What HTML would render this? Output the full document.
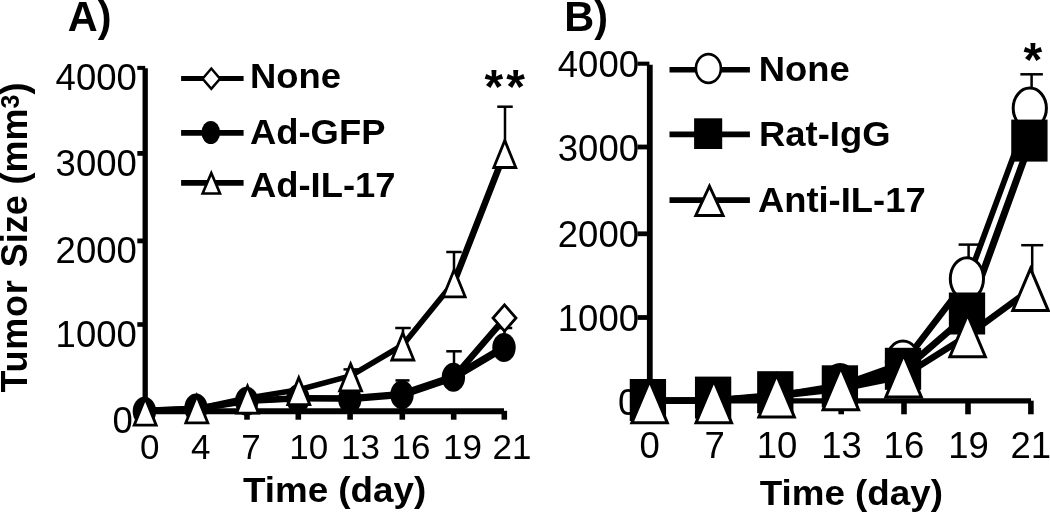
<!DOCTYPE html>
<html lang="en">
<head>
<meta charset="utf-8">
<title>Tumor size over time</title>
<style>
html,body{margin:0;padding:0;background:#fff;}
body{width:1050px;height:513px;overflow:hidden;}
svg{display:block;will-change:transform;}
svg text{font-family:"Liberation Sans", sans-serif;fill:#000;}
</style>
</head>
<body>
<svg width="1050" height="513" viewBox="0 0 1050 513">
<rect x="0" y="0" width="1050" height="513" fill="#fff"/>
<text transform="translate(67.70,30.80) scale(0.974,1)" font-size="42.6" font-weight="700" text-anchor="start">A)</text>
<text transform="translate(27,0) rotate(-90)" font-size="36" font-weight="700"><tspan x="-392.5" letter-spacing="0.75">Tumor</tspan> <tspan x="-267.2">Size</tspan> <tspan x="-184.5">(mm</tspan><tspan font-size="25" dy="-8">3</tspan><tspan dy="8">)</tspan></text>
<text x="136.80" y="90.30" font-size="36.5" text-anchor="end">4000</text>
<text x="136.80" y="176.10" font-size="36.5" text-anchor="end">3000</text>
<text x="136.80" y="262.80" font-size="36.5" text-anchor="end">2000</text>
<text x="136.80" y="346.90" font-size="36.5" text-anchor="end">1000</text>
<text x="132.70" y="433.10" font-size="36.5" text-anchor="end">0</text>
<text x="139.90" y="458.80" font-size="35" text-anchor="start">0</text>
<text x="191.10" y="458.80" font-size="35" text-anchor="start">4</text>
<text x="241.30" y="458.80" font-size="35" text-anchor="start">7</text>
<text x="289.30" y="458.80" font-size="35" text-anchor="start">10</text>
<text x="341.00" y="458.80" font-size="35" text-anchor="start">13</text>
<text x="391.50" y="458.80" font-size="35" text-anchor="start">16</text>
<text x="443.00" y="458.80" font-size="35" text-anchor="start">19</text>
<text x="492.50" y="458.80" font-size="35" text-anchor="start">21</text>
<text transform="translate(243.00,501.50) scale(1.022,1)" font-size="36" font-weight="700" text-anchor="start">Time (day)</text>
<line x1="181.10" y1="78.50" x2="243.60" y2="78.50" stroke="#000" stroke-width="5.1" stroke-linecap="butt"/>
<polygon points="211.30,68.55 220.00,78.70 211.30,88.85 202.60,78.70" fill="#fff" stroke="#000" stroke-width="2.5" stroke-linejoin="miter"/>
<text transform="translate(250.10,88.20) scale(1.04,1)" font-size="35" font-weight="700" text-anchor="start">None</text>
<line x1="181.10" y1="132.95" x2="243.60" y2="132.95" stroke="#000" stroke-width="5.7" stroke-linecap="butt"/>
<ellipse cx="210.80" cy="132.50" rx="9.3" ry="11.6" fill="#000"/>
<text transform="translate(250.00,144.00) scale(1.04,1)" font-size="35" font-weight="700" text-anchor="start">Ad-GFP</text>
<line x1="181.10" y1="182.95" x2="243.60" y2="182.95" stroke="#000" stroke-width="5.7" stroke-linecap="butt"/>
<polygon points="211.30,173.08 220.00,193.53 202.60,193.53" fill="#fff" stroke="#000" stroke-width="2.6" stroke-linejoin="miter"/>
<text transform="translate(250.00,196.60) scale(1.04,1)" font-size="35" font-weight="700" text-anchor="start">Ad-IL-17</text>
<text x="484.60" y="103.00" font-size="48" font-weight="700" text-anchor="start" letter-spacing="2.9">**</text>
<line x1="145.20" y1="68.30" x2="145.20" y2="413.50" stroke="#000" stroke-width="5.3" stroke-linecap="butt"/>
<line x1="142.60" y1="411.20" x2="504.00" y2="411.20" stroke="#000" stroke-width="6" stroke-linecap="butt"/>
<line x1="137.30" y1="67.90" x2="145.20" y2="67.90" stroke="#000" stroke-width="4.0" stroke-linecap="butt"/>
<line x1="137.30" y1="153.40" x2="145.20" y2="153.40" stroke="#000" stroke-width="4.8" stroke-linecap="butt"/>
<line x1="137.30" y1="240.90" x2="145.20" y2="240.90" stroke="#000" stroke-width="4.8" stroke-linecap="butt"/>
<line x1="137.30" y1="324.50" x2="145.20" y2="324.50" stroke="#000" stroke-width="4.6" stroke-linecap="butt"/>
<line x1="196.30" y1="410.80" x2="196.30" y2="419.70" stroke="#000" stroke-width="5.6" stroke-linecap="butt"/>
<line x1="247.00" y1="410.80" x2="247.00" y2="419.70" stroke="#000" stroke-width="5.6" stroke-linecap="butt"/>
<line x1="298.30" y1="410.80" x2="298.30" y2="419.70" stroke="#000" stroke-width="5.6" stroke-linecap="butt"/>
<line x1="350.10" y1="410.80" x2="350.10" y2="419.70" stroke="#000" stroke-width="5.6" stroke-linecap="butt"/>
<line x1="402.30" y1="410.80" x2="402.30" y2="419.70" stroke="#000" stroke-width="5.6" stroke-linecap="butt"/>
<line x1="453.70" y1="410.80" x2="453.70" y2="419.70" stroke="#000" stroke-width="5.6" stroke-linecap="butt"/>
<line x1="504.30" y1="410.80" x2="504.30" y2="419.70" stroke="#000" stroke-width="5.6" stroke-linecap="butt"/>
<line x1="505.00" y1="106.70" x2="505.00" y2="150.00" stroke="#000" stroke-width="2.5" stroke-linecap="butt"/>
<line x1="497.25" y1="106.70" x2="512.75" y2="106.70" stroke="#000" stroke-width="2.5" stroke-linecap="butt"/>
<line x1="454.00" y1="252.00" x2="454.00" y2="280.00" stroke="#000" stroke-width="2.5" stroke-linecap="butt"/>
<line x1="446.25" y1="252.00" x2="461.75" y2="252.00" stroke="#000" stroke-width="2.5" stroke-linecap="butt"/>
<line x1="403.00" y1="328.00" x2="403.00" y2="345.00" stroke="#000" stroke-width="2.5" stroke-linecap="butt"/>
<line x1="395.25" y1="328.00" x2="410.75" y2="328.00" stroke="#000" stroke-width="2.5" stroke-linecap="butt"/>
<line x1="351.00" y1="369.40" x2="351.00" y2="378.00" stroke="#000" stroke-width="2.5" stroke-linecap="butt"/>
<line x1="343.50" y1="369.40" x2="358.50" y2="369.40" stroke="#000" stroke-width="2.5" stroke-linecap="butt"/>
<line x1="454.00" y1="351.30" x2="454.00" y2="372.00" stroke="#000" stroke-width="2.5" stroke-linecap="butt"/>
<line x1="446.25" y1="351.30" x2="461.75" y2="351.30" stroke="#000" stroke-width="2.5" stroke-linecap="butt"/>
<line x1="402.50" y1="380.40" x2="402.50" y2="386.00" stroke="#000" stroke-width="2.5" stroke-linecap="butt"/>
<line x1="395.50" y1="380.40" x2="409.50" y2="380.40" stroke="#000" stroke-width="2.5" stroke-linecap="butt"/>
<line x1="504.50" y1="328.00" x2="504.50" y2="345.00" stroke="#000" stroke-width="2.5" stroke-linecap="butt"/>
<line x1="496.75" y1="328.00" x2="512.25" y2="328.00" stroke="#000" stroke-width="2.5" stroke-linecap="butt"/>
<line x1="145.20" y1="410.80" x2="196.80" y2="408.80" stroke="#000" stroke-width="5.5" stroke-linecap="round"/>
<line x1="196.80" y1="408.80" x2="247.50" y2="400.80" stroke="#000" stroke-width="5.5" stroke-linecap="round"/>
<line x1="247.50" y1="400.80" x2="298.80" y2="398.30" stroke="#000" stroke-width="5.5" stroke-linecap="round"/>
<line x1="298.80" y1="398.30" x2="350.60" y2="398.60" stroke="#000" stroke-width="5.5" stroke-linecap="round"/>
<line x1="350.60" y1="398.60" x2="402.80" y2="394.30" stroke="#000" stroke-width="5.5" stroke-linecap="round"/>
<line x1="402.80" y1="394.30" x2="454.20" y2="376.90" stroke="#000" stroke-width="6" stroke-linecap="round"/>
<line x1="454.20" y1="376.90" x2="504.80" y2="318.30" stroke="#000" stroke-width="6.5" stroke-linecap="round"/>
<line x1="145.20" y1="410.80" x2="196.80" y2="408.80" stroke="#000" stroke-width="6.5" stroke-linecap="round"/>
<line x1="196.80" y1="408.80" x2="247.50" y2="400.80" stroke="#000" stroke-width="6.5" stroke-linecap="round"/>
<line x1="247.50" y1="400.80" x2="298.80" y2="398.30" stroke="#000" stroke-width="6.5" stroke-linecap="round"/>
<line x1="298.80" y1="398.30" x2="350.60" y2="398.60" stroke="#000" stroke-width="6.5" stroke-linecap="round"/>
<line x1="350.60" y1="398.60" x2="402.80" y2="394.30" stroke="#000" stroke-width="7.2" stroke-linecap="round"/>
<line x1="402.80" y1="394.30" x2="454.20" y2="376.90" stroke="#000" stroke-width="7.8" stroke-linecap="round"/>
<line x1="454.20" y1="376.90" x2="504.80" y2="347.00" stroke="#000" stroke-width="7.5" stroke-linecap="round"/>
<line x1="145.20" y1="410.30" x2="196.80" y2="408.80" stroke="#000" stroke-width="5.8" stroke-linecap="round"/>
<line x1="196.80" y1="408.80" x2="247.50" y2="398.10" stroke="#000" stroke-width="5.8" stroke-linecap="round"/>
<line x1="247.50" y1="398.10" x2="298.80" y2="389.70" stroke="#000" stroke-width="5.6" stroke-linecap="round"/>
<line x1="298.80" y1="389.70" x2="350.60" y2="375.90" stroke="#000" stroke-width="5.6" stroke-linecap="round"/>
<line x1="350.60" y1="375.90" x2="402.80" y2="345.00" stroke="#000" stroke-width="5.7" stroke-linecap="round"/>
<line x1="402.80" y1="345.00" x2="454.20" y2="281.80" stroke="#000" stroke-width="5.7" stroke-linecap="round"/>
<line x1="454.20" y1="281.80" x2="504.80" y2="152.50" stroke="#000" stroke-width="6.5" stroke-linecap="round"/>
<polygon points="504.50,304.80 516.00,318.00 504.50,331.20 493.00,318.00" fill="#fff" stroke="#000" stroke-width="2.8" stroke-linejoin="miter"/>
<ellipse cx="144.40" cy="411.20" rx="11.7" ry="14.5" fill="#000"/>
<ellipse cx="196.00" cy="408.10" rx="11.7" ry="14.5" fill="#000"/>
<ellipse cx="246.70" cy="401.20" rx="11.7" ry="14.5" fill="#000"/>
<ellipse cx="298.00" cy="398.70" rx="11.7" ry="14.5" fill="#000"/>
<ellipse cx="349.80" cy="399.00" rx="11.7" ry="14.5" fill="#000"/>
<ellipse cx="402.00" cy="394.70" rx="11.7" ry="14.5" fill="#000"/>
<ellipse cx="453.40" cy="377.30" rx="11.7" ry="14.5" fill="#000"/>
<ellipse cx="504.00" cy="347.40" rx="11.7" ry="14.5" fill="#000"/>
<polygon points="145.20,398.20 156.20,425.20 134.20,425.20" fill="#fff" stroke="#000" stroke-width="2.8" stroke-linejoin="miter"/>
<polygon points="196.80,395.80 207.80,422.80 185.80,422.80" fill="#fff" stroke="#000" stroke-width="2.8" stroke-linejoin="miter"/>
<polygon points="247.50,386.10 258.50,413.10 236.50,413.10" fill="#fff" stroke="#000" stroke-width="2.8" stroke-linejoin="miter"/>
<polygon points="298.80,377.70 309.80,404.70 287.80,404.70" fill="#fff" stroke="#000" stroke-width="2.8" stroke-linejoin="miter"/>
<polygon points="350.60,363.90 361.60,390.90 339.60,390.90" fill="#fff" stroke="#000" stroke-width="2.8" stroke-linejoin="miter"/>
<polygon points="402.80,333.00 413.80,360.00 391.80,360.00" fill="#fff" stroke="#000" stroke-width="2.8" stroke-linejoin="miter"/>
<polygon points="454.20,269.80 465.20,296.80 443.20,296.80" fill="#fff" stroke="#000" stroke-width="2.8" stroke-linejoin="miter"/>
<polygon points="504.80,140.50 515.80,167.50 493.80,167.50" fill="#fff" stroke="#000" stroke-width="2.8" stroke-linejoin="miter"/>
<text transform="translate(564.30,30.70) scale(0.98,1)" font-size="42.3" font-weight="700" text-anchor="start">B)</text>
<text x="639.00" y="76.50" font-size="36.5" text-anchor="end">4000</text>
<text x="639.00" y="160.60" font-size="36.5" text-anchor="end">3000</text>
<text x="639.00" y="247.40" font-size="36.5" text-anchor="end">2000</text>
<text x="639.00" y="331.20" font-size="36.5" text-anchor="end">1000</text>
<text x="638.20" y="414.80" font-size="36.5" text-anchor="end">0</text>
<text x="639.50" y="457.60" font-size="36.5" text-anchor="start">0</text>
<text x="704.50" y="457.60" font-size="36.5" text-anchor="start">7</text>
<text x="756.70" y="457.60" font-size="36.5" text-anchor="start">10</text>
<text x="821.30" y="457.60" font-size="36.5" text-anchor="start">13</text>
<text x="883.60" y="457.60" font-size="36.5" text-anchor="start">16</text>
<text x="948.30" y="457.60" font-size="36.5" text-anchor="start">19</text>
<text x="1010.50" y="457.60" font-size="36.5" text-anchor="start">21</text>
<text transform="translate(759.70,504.60) scale(1.022,1)" font-size="36" font-weight="700" text-anchor="start">Time (day)</text>
<line x1="669.50" y1="69.75" x2="749.90" y2="69.75" stroke="#000" stroke-width="5.65" stroke-linecap="butt"/>
<ellipse cx="708.40" cy="68.50" rx="12.5" ry="14.4" fill="#fff" stroke="#000" stroke-width="2.6"/>
<text transform="translate(758.80,81.00) scale(1.04,1)" font-size="35" font-weight="700" text-anchor="start">None</text>
<line x1="669.50" y1="134.40" x2="749.90" y2="134.40" stroke="#000" stroke-width="5.85" stroke-linecap="butt"/>
<rect x="694.10" y="118.30" width="28.1" height="30.7" fill="#000"/>
<text transform="translate(759.10,146.40) scale(1.04,1)" font-size="35" font-weight="700" text-anchor="start">Rat-IgG</text>
<line x1="669.50" y1="200.05" x2="749.90" y2="200.05" stroke="#000" stroke-width="5.65" stroke-linecap="butt"/>
<polygon points="709.45,186.15 723.10,215.45 695.80,215.45" fill="#fff" stroke="#000" stroke-width="2.9" stroke-linejoin="miter"/>
<text transform="translate(757.90,212.20) scale(1.04,1)" font-size="35" font-weight="700" text-anchor="start">Anti-IL-17</text>
<text x="1023.50" y="75.50" font-size="48" font-weight="700" text-anchor="start">*</text>
<line x1="649.80" y1="64.70" x2="649.80" y2="403.50" stroke="#000" stroke-width="5.8" stroke-linecap="butt"/>
<line x1="646.80" y1="400.90" x2="1031.00" y2="400.90" stroke="#000" stroke-width="5.4" stroke-linecap="butt"/>
<line x1="637.50" y1="63.70" x2="649.40" y2="63.70" stroke="#000" stroke-width="4.1" stroke-linecap="butt"/>
<line x1="637.50" y1="147.00" x2="649.40" y2="147.00" stroke="#000" stroke-width="4.8" stroke-linecap="butt"/>
<line x1="637.50" y1="233.80" x2="649.40" y2="233.80" stroke="#000" stroke-width="4.8" stroke-linecap="butt"/>
<line x1="637.50" y1="317.50" x2="649.40" y2="317.50" stroke="#000" stroke-width="4.8" stroke-linecap="butt"/>
<line x1="714.20" y1="400.70" x2="714.20" y2="414.30" stroke="#000" stroke-width="5.6" stroke-linecap="butt"/>
<line x1="777.00" y1="400.70" x2="777.00" y2="414.30" stroke="#000" stroke-width="5.6" stroke-linecap="butt"/>
<line x1="841.20" y1="400.70" x2="841.20" y2="414.30" stroke="#000" stroke-width="5.6" stroke-linecap="butt"/>
<line x1="904.00" y1="400.70" x2="904.00" y2="414.30" stroke="#000" stroke-width="5.6" stroke-linecap="butt"/>
<line x1="968.00" y1="400.70" x2="968.00" y2="414.30" stroke="#000" stroke-width="5.6" stroke-linecap="butt"/>
<line x1="1030.90" y1="400.70" x2="1030.90" y2="414.30" stroke="#000" stroke-width="5.6" stroke-linecap="butt"/>
<line x1="1031.60" y1="74.30" x2="1031.60" y2="90.00" stroke="#000" stroke-width="2.5" stroke-linecap="butt"/>
<line x1="1020.35" y1="74.30" x2="1042.85" y2="74.30" stroke="#000" stroke-width="2.5" stroke-linecap="butt"/>
<line x1="968.60" y1="244.60" x2="968.60" y2="260.00" stroke="#000" stroke-width="2.5" stroke-linecap="butt"/>
<line x1="958.60" y1="244.60" x2="978.60" y2="244.60" stroke="#000" stroke-width="2.5" stroke-linecap="butt"/>
<line x1="1032.20" y1="245.20" x2="1032.20" y2="275.00" stroke="#000" stroke-width="2.5" stroke-linecap="butt"/>
<line x1="1021.20" y1="245.20" x2="1043.20" y2="245.20" stroke="#000" stroke-width="2.5" stroke-linecap="butt"/>
<line x1="649.30" y1="400.80" x2="713.50" y2="400.60" stroke="#000" stroke-width="6.5" stroke-linecap="round"/>
<line x1="713.50" y1="400.60" x2="776.30" y2="396.00" stroke="#000" stroke-width="6.5" stroke-linecap="round"/>
<line x1="776.30" y1="396.00" x2="840.50" y2="385.50" stroke="#000" stroke-width="6.5" stroke-linecap="round"/>
<line x1="840.50" y1="385.50" x2="903.30" y2="363.30" stroke="#000" stroke-width="6.5" stroke-linecap="round"/>
<line x1="903.30" y1="363.30" x2="968.10" y2="278.80" stroke="#000" stroke-width="6.5" stroke-linecap="round"/>
<line x1="968.10" y1="278.80" x2="1031.00" y2="108.90" stroke="#000" stroke-width="5.8" stroke-linecap="round"/>
<line x1="649.30" y1="400.80" x2="713.50" y2="400.60" stroke="#000" stroke-width="6.5" stroke-linecap="round"/>
<line x1="713.50" y1="400.60" x2="776.30" y2="395.00" stroke="#000" stroke-width="6.5" stroke-linecap="round"/>
<line x1="776.30" y1="395.00" x2="840.50" y2="388.10" stroke="#000" stroke-width="6.5" stroke-linecap="round"/>
<line x1="840.50" y1="388.10" x2="903.30" y2="370.60" stroke="#000" stroke-width="6.5" stroke-linecap="round"/>
<line x1="903.30" y1="370.60" x2="967.30" y2="315.30" stroke="#000" stroke-width="6.8" stroke-linecap="round"/>
<line x1="967.30" y1="315.30" x2="1030.20" y2="142.40" stroke="#000" stroke-width="7" stroke-linecap="round"/>
<line x1="649.30" y1="400.80" x2="713.50" y2="400.60" stroke="#000" stroke-width="6.5" stroke-linecap="round"/>
<line x1="713.50" y1="400.60" x2="776.30" y2="396.00" stroke="#000" stroke-width="6.5" stroke-linecap="round"/>
<line x1="776.30" y1="396.00" x2="840.50" y2="388.70" stroke="#000" stroke-width="6.5" stroke-linecap="round"/>
<line x1="840.50" y1="388.70" x2="903.30" y2="376.00" stroke="#000" stroke-width="6.5" stroke-linecap="round"/>
<line x1="903.30" y1="376.00" x2="967.30" y2="335.70" stroke="#000" stroke-width="6.5" stroke-linecap="round"/>
<line x1="967.30" y1="335.70" x2="1030.20" y2="289.60" stroke="#000" stroke-width="6.5" stroke-linecap="round"/>
<ellipse cx="840.10" cy="385.00" rx="16.6" ry="20.5" fill="#fff" stroke="#000" stroke-width="3"/>
<ellipse cx="902.90" cy="361.60" rx="16.6" ry="20.5" fill="#fff" stroke="#000" stroke-width="3"/>
<ellipse cx="966.90" cy="278.70" rx="16.6" ry="21.0" fill="#fff" stroke="#000" stroke-width="3"/>
<ellipse cx="1029.80" cy="108.20" rx="16.6" ry="20.1" fill="#fff" stroke="#000" stroke-width="3"/>
<rect x="629.75" y="379.00" width="36.3" height="42" fill="#000"/>
<rect x="694.95" y="376.60" width="36.3" height="42" fill="#000"/>
<rect x="757.15" y="371.20" width="36.3" height="42" fill="#000"/>
<rect x="821.75" y="365.30" width="36.3" height="42" fill="#000"/>
<rect x="884.85" y="347.80" width="36.3" height="42" fill="#000"/>
<rect x="948.85" y="292.50" width="36.3" height="42" fill="#000"/>
<rect x="1011.25" y="119.60" width="36.3" height="42" fill="#000"/>
<polygon points="649.60,380.85 667.35,422.85 631.85,422.85" fill="#fff" stroke="#000" stroke-width="3" stroke-linejoin="miter"/>
<polygon points="713.80,380.65 731.55,422.65 696.05,422.65" fill="#fff" stroke="#000" stroke-width="3" stroke-linejoin="miter"/>
<polygon points="776.60,374.95 794.35,416.95 758.85,416.95" fill="#fff" stroke="#000" stroke-width="3" stroke-linejoin="miter"/>
<polygon points="840.80,367.65 858.55,409.65 823.05,409.65" fill="#fff" stroke="#000" stroke-width="3" stroke-linejoin="miter"/>
<polygon points="903.60,354.95 921.35,396.95 885.85,396.95" fill="#fff" stroke="#000" stroke-width="3" stroke-linejoin="miter"/>
<polygon points="967.60,314.65 985.35,356.65 949.85,356.65" fill="#fff" stroke="#000" stroke-width="3" stroke-linejoin="miter"/>
<polygon points="1030.50,268.55 1048.25,310.55 1012.75,310.55" fill="#fff" stroke="#000" stroke-width="3" stroke-linejoin="miter"/>
</svg>
</body>
</html>
